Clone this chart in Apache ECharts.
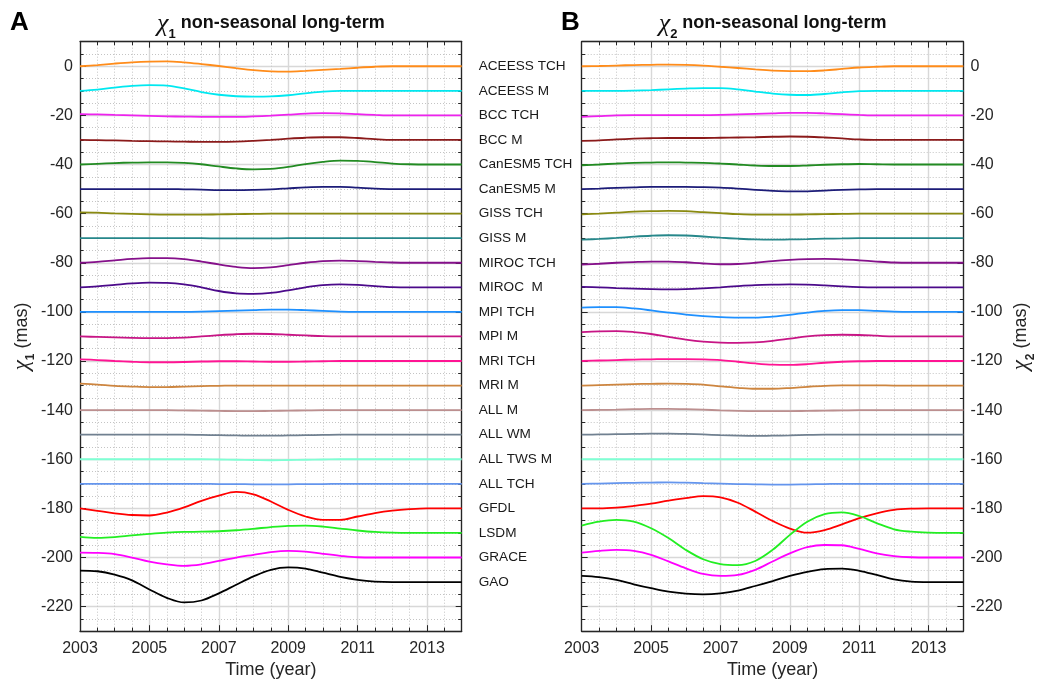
<!DOCTYPE html>
<html>
<head>
<meta charset="utf-8">
<script src="https://cdn.jsdelivr.net/npm/echarts@6/dist/echarts.min.js"></script>
<style>
  html, body { margin: 0; padding: 0; background: #ffffff; }
  #chart { width: 1037px; height: 684px; }
</style>
</head>
<body>
<div id="chart"></div>
<script>
// Sample times (decimal years, half-year steps)
const years = [2003, 2003.5, 2004, 2004.5, 2005, 2005.5, 2006, 2006.5, 2007, 2007.5, 2008, 2008.5,
               2009, 2009.5, 2010, 2010.5, 2011, 2011.5, 2012, 2012.5, 2013, 2013.5, 2014];

// Row names, listed top to bottom (each curve is offset by 10 mas)
const seriesNames = ['ACEESS TCH', 'ACEESS M', 'BCC TCH', 'BCC M', 'CanESM5 TCH', 'CanESM5 M',
  'GISS TCH', 'GISS M', 'MIROC TCH', 'MIROC  M', 'MPI TCH', 'MPI M', 'MRI TCH', 'MRI M',
  'ALL M', 'ALL WM', 'ALL TWS M', 'ALL TCH', 'GFDL', 'LSDM', 'GRACE', 'GAO'];

const seriesColors = ['#ff8c1a', '#00e8f0', '#ee22ee', '#8b1a1a', '#228b22', '#1c1c78',
  '#8a8a10', '#26878a', '#85108a', '#4b0a8a', '#1e90ff', '#c71585', '#ff1493', '#cd853f',
  '#bc8f8f', '#708090', '#7fffd4', '#6495ed', '#ff0000', '#22ee22', '#ff00ff', '#000000'];

// Axis tick labels
const xTickYears = [2003, 2005, 2007, 2009, 2011, 2013];
const yTickValues = [0, -20, -40, -60, -80, -100, -120, -140, -160, -180, -200, -220];

// ---- chi1 non-seasonal long-term (mas, offset per row) ----
const chi1AceessTch = [0, 0.5, 1.1, 1.6, 1.9, 2.0, 1.6, 0.9, 0.1, -0.8, -1.6, -2.1, -2.2, -1.9, -1.5, -1.1, -0.6, -0.2, 0, 0, 0, 0, 0];
const chi1AceessM   = [-10, -9.5, -8.7, -8.0, -7.7, -7.9, -9.0, -10.5, -11.6, -12.2, -12.4, -12.3, -11.8, -11.0, -10.3, -10.0, -10, -10, -10, -10, -10, -10, -10];
const chi1BccTch    = [-19.5, -19.6, -19.8, -20.0, -20.2, -20.4, -20.5, -20.6, -20.6, -20.6, -20.4, -20.1, -19.7, -19.3, -19.1, -19.2, -19.5, -19.8, -20, -20, -20, -20, -20];
const chi1BccM      = [-30, -30.1, -30.2, -30.4, -30.5, -30.6, -30.7, -30.8, -30.8, -30.7, -30.4, -30.0, -29.5, -29.1, -28.9, -28.9, -29.2, -29.7, -30, -30, -30, -30, -30];
const chi1CanTch    = [-40, -39.7, -39.4, -39.2, -39.1, -39.1, -39.3, -39.9, -40.8, -41.6, -42.0, -41.8, -41.0, -39.8, -38.9, -38.4, -38.5, -39.0, -39.6, -39.9, -40, -40, -40];
const chi1CanM      = [-50, -50, -50, -50, -50, -50, -50.1, -50.2, -50.4, -50.4, -50.3, -50.1, -49.7, -49.3, -49.1, -49.1, -49.4, -49.8, -50, -50, -50, -50, -50];
const chi1GissTch   = [-59.5, -59.6, -59.9, -60.1, -60.3, -60.4, -60.4, -60.4, -60.3, -60.2, -60.1, -60, -60, -60, -60, -60, -60, -60, -60, -60, -60, -60, -60];
const chi1GissM     = [-70, -70, -70, -70, -70, -70, -70, -70, -70.1, -70.1, -70.1, -70.1, -70, -70, -70, -70, -70, -70, -70, -70, -70, -70, -70];
const chi1MirocTch  = [-80, -79.6, -79.0, -78.4, -78.1, -78.1, -78.5, -79.5, -80.7, -81.7, -82.2, -81.9, -81.0, -80.0, -79.3, -79.1, -79.3, -79.6, -79.9, -80, -80, -80, -80];
const chi1MirocM    = [-90, -89.6, -89.0, -88.4, -88.1, -88.2, -88.8, -90.0, -91.5, -92.5, -92.7, -92.3, -91.2, -90.0, -89.1, -88.8, -89.0, -89.5, -89.9, -90, -90, -90, -90];
const chi1MpiTch    = [-100, -100, -100, -100, -100, -100, -100, -99.9, -99.7, -99.5, -99.3, -99.1, -99.1, -99.3, -99.6, -99.9, -100, -100, -100, -100, -100, -100, -100];
const chi1MpiM      = [-110, -110.2, -110.4, -110.6, -110.7, -110.7, -110.5, -110.0, -109.5, -109.1, -108.9, -109.0, -109.3, -109.6, -109.9, -110, -110, -110, -110, -110, -110, -110, -110];
const chi1MriTch    = [-119.3, -119.6, -120.0, -120.3, -120.5, -120.5, -120.4, -120.2, -120.1, -120.1, -120.2, -120.3, -120.3, -120.2, -120.1, -120, -120, -120, -120, -120, -120, -120, -120];
const chi1MriM      = [-129.2, -129.6, -130.1, -130.4, -130.6, -130.6, -130.4, -130.2, -130.1, -130, -130, -130, -130, -130, -130, -130, -130, -130, -130, -130, -130, -130, -130];
const chi1AllM      = [-140, -140, -140, -140, -140, -140, -140.1, -140.2, -140.3, -140.4, -140.4, -140.3, -140.2, -140.1, -140, -140, -140, -140, -140, -140, -140, -140, -140];
const chi1AllWM     = [-150, -150, -150, -150, -150, -150, -150, -150.1, -150.2, -150.3, -150.4, -150.4, -150.3, -150.2, -150.1, -150, -150, -150, -150, -150, -150, -150, -150];
const chi1AllTwsM   = [-160, -160, -160, -160, -160, -160, -160, -160, -160.1, -160.2, -160.3, -160.4, -160.3, -160.2, -160.1, -160, -160, -160, -160, -160, -160, -160, -160];
const chi1AllTch    = [-170, -170, -170, -170, -170, -170, -170, -170, -170.1, -170.1, -170.2, -170.2, -170.2, -170.1, -170.1, -170, -170, -170, -170, -170, -170, -170, -170];
const chi1Gfdl      = [-180.0, -181.0, -182.0, -182.7, -182.9, -181.7, -179.6, -176.9, -174.8, -173.3, -174.3, -177.2, -180.6, -183.3, -184.7, -184.7, -183.3, -181.9, -180.9, -180.3, -180.0, -180, -180];
const chi1Lsdm      = [-191.6, -192.0, -191.7, -191.0, -190.4, -189.9, -189.6, -189.5, -189.3, -188.9, -188.3, -187.6, -187.1, -187.0, -187.4, -188.2, -189.0, -189.6, -189.9, -190, -190, -190, -190];
const chi1Grace     = [-198.0, -198.1, -198.6, -200.0, -201.7, -202.8, -203.4, -202.8, -201.4, -200.0, -198.9, -197.8, -197.3, -197.6, -198.5, -199.3, -199.9, -200.0, -200, -200, -200, -200, -200];
const chi1Gao       = [-205.3, -205.6, -207.0, -209.3, -213.0, -216.4, -218.3, -217.5, -214.6, -211.1, -207.7, -205.0, -204.0, -204.5, -206.2, -207.9, -209.1, -209.8, -210, -210, -210, -210, -210];

// ---- chi2 non-seasonal long-term (mas, offset per row) ----
const chi2AceessTch = [0, 0.1, 0.3, 0.5, 0.6, 0.7, 0.6, 0.3, -0.2, -0.7, -1.3, -1.8, -2.0, -2.0, -1.7, -1.1, -0.5, -0.2, 0, 0, 0, 0, 0];
const chi2AceessM   = [-10, -10, -10, -9.9, -9.7, -9.4, -9.1, -8.9, -8.9, -9.4, -10.3, -11.1, -11.6, -11.7, -11.3, -10.6, -10.1, -10, -10, -10, -10, -10, -10];
const chi2BccTch    = [-20.6, -20.3, -20.0, -19.9, -19.9, -19.9, -19.9, -19.9, -19.8, -19.6, -19.4, -19.2, -19.0, -19.0, -19.2, -19.5, -19.8, -20, -20, -20, -20, -20, -20];
const chi2BccM      = [-30.4, -30.2, -29.8, -29.5, -29.3, -29.2, -29.2, -29.2, -29.1, -29.0, -28.9, -28.7, -28.6, -28.7, -29.0, -29.4, -29.8, -30, -30, -30, -30, -30, -30];
const chi2CanTch    = [-40.3, -40.0, -39.6, -39.3, -39.2, -39.1, -39.2, -39.3, -39.6, -40.0, -40.4, -40.6, -40.6, -40.4, -40.1, -39.9, -39.8, -39.9, -40, -40, -40, -40, -40];
const chi2CanM      = [-50, -49.8, -49.5, -49.3, -49.1, -49.1, -49.1, -49.2, -49.4, -49.8, -50.3, -50.7, -50.9, -50.9, -50.6, -50.3, -50.1, -50, -50, -50, -50, -50, -50];
const chi2GissTch   = [-60.3, -60.0, -59.6, -59.2, -59.0, -58.9, -59.0, -59.4, -59.8, -60.2, -60.4, -60.4, -60.4, -60.3, -60.2, -60.1, -60, -60, -60, -60, -60, -60, -60];
const chi2GissM     = [-70.6, -70.3, -69.9, -69.4, -69.0, -68.8, -68.9, -69.3, -69.8, -70.2, -70.5, -70.6, -70.5, -70.4, -70.2, -70.1, -70, -70, -70, -70, -70, -70, -70];
const chi2MirocTch  = [-80.7, -80.4, -80.0, -79.7, -79.5, -79.5, -79.8, -80.3, -80.6, -80.5, -80.0, -79.3, -78.8, -78.5, -78.4, -78.6, -79.0, -79.5, -79.9, -80, -80, -80, -80];
const chi2MirocM    = [-89.8, -90.0, -90.3, -90.5, -90.7, -90.8, -90.7, -90.4, -90.0, -89.5, -89.1, -88.9, -88.8, -88.9, -89.2, -89.6, -89.9, -90, -90, -90, -90, -90, -90];
const chi2MpiTch    = [-98.3, -98.1, -98.1, -98.6, -99.4, -100.3, -101.1, -101.7, -102.1, -102.3, -102.3, -101.9, -101.2, -100.3, -99.6, -99.3, -99.3, -99.6, -99.9, -100, -100, -100, -100];
const chi2MpiM      = [-108.2, -107.9, -107.8, -108.2, -109.0, -110.2, -111.3, -112.1, -112.5, -112.6, -112.4, -111.8, -110.9, -110.0, -109.5, -109.3, -109.4, -109.7, -110, -110, -110, -110, -110];
const chi2MriTch    = [-120.0, -119.8, -119.6, -119.4, -119.3, -119.2, -119.2, -119.3, -119.6, -120.3, -121.0, -121.5, -121.6, -121.3, -120.7, -120.3, -120.1, -120, -120, -120, -120, -120, -120];
const chi2MriM      = [-130, -129.8, -129.6, -129.4, -129.3, -129.2, -129.3, -129.6, -130.3, -130.9, -131.3, -131.3, -131.0, -130.5, -130.1, -129.9, -129.9, -129.9, -130, -130, -130, -130, -130];
const chi2AllM      = [-140, -139.9, -139.8, -139.6, -139.5, -139.5, -139.6, -139.8, -140.1, -140.3, -140.4, -140.4, -140.4, -140.3, -140.2, -140.1, -140, -140, -140, -140, -140, -140, -140];
const chi2AllWM     = [-150, -149.9, -149.8, -149.7, -149.6, -149.6, -149.7, -149.9, -150.2, -150.4, -150.5, -150.4, -150.3, -150.1, -150, -150, -150, -150, -150, -150, -150, -150, -150];
const chi2AllTwsM   = [-160, -160, -160, -160, -160, -160, -160, -160, -160, -160, -160, -160, -160, -160, -160, -160, -160, -160, -160, -160, -160, -160, -160];
const chi2AllTch    = [-170, -169.9, -169.7, -169.6, -169.5, -169.4, -169.5, -169.7, -169.9, -170.1, -170.2, -170.3, -170.3, -170.2, -170.1, -170, -170, -170, -170, -170, -170, -170, -170];
const chi2Gfdl      = [-180.0, -180.0, -179.7, -179.0, -178.1, -176.8, -175.8, -175.0, -175.5, -177.7, -181.3, -185.1, -188.2, -189.9, -188.8, -186.5, -184.0, -182.0, -180.6, -180.1, -180, -180, -180];
const chi2Lsdm      = [-187.0, -185.4, -184.7, -185.4, -188.1, -192.1, -196.9, -200.7, -202.7, -203.1, -201.4, -196.9, -190.8, -185.4, -182.3, -181.6, -183.1, -186.0, -188.5, -189.5, -189.9, -190, -190];
const chi2Grace     = [-198.0, -197.3, -196.9, -197.3, -198.9, -201.6, -204.4, -206.7, -207.5, -207.1, -205.0, -201.6, -198.3, -195.8, -194.9, -195.0, -196.5, -198.3, -199.4, -199.9, -200, -200, -200];
const chi2Gao       = [-207.5, -208.0, -209.1, -210.9, -212.5, -213.9, -214.7, -215.0, -214.6, -213.5, -211.6, -209.6, -207.5, -205.8, -204.7, -204.5, -205.4, -207.1, -208.9, -209.8, -210, -210, -210];

const chi1Rows = [chi1AceessTch, chi1AceessM, chi1BccTch, chi1BccM, chi1CanTch, chi1CanM, chi1GissTch, chi1GissM,
  chi1MirocTch, chi1MirocM, chi1MpiTch, chi1MpiM, chi1MriTch, chi1MriM, chi1AllM, chi1AllWM, chi1AllTwsM, chi1AllTch,
  chi1Gfdl, chi1Lsdm, chi1Grace, chi1Gao];
const chi2Rows = [chi2AceessTch, chi2AceessM, chi2BccTch, chi2BccM, chi2CanTch, chi2CanM, chi2GissTch, chi2GissM,
  chi2MirocTch, chi2MirocM, chi2MpiTch, chi2MpiM, chi2MriTch, chi2MriM, chi2AllM, chi2AllWM, chi2AllTwsM, chi2AllTch,
  chi2Gfdl, chi2Lsdm, chi2Grace, chi2Gao];

// ---- styling ----
const FONT = 'Arial, "Liberation Sans", Helvetica, sans-serif';
const SERIF = '"Liberation Serif", "DejaVu Serif", "Times New Roman", serif';
const INK = '#262626';
const X_MIN = 2003, X_MAX = 2014;
const Y_MIN = -230, Y_MAX = 10;
const MINOR_GRID = { color: '#c4c4c4', width: 1, type: [1, 2] };
const MAJOR_GRID = { color: '#d8d8d8', width: 1.4 };
const BORDER = { color: INK, width: 1.3 };
const PLOT_TOP = 41.7, PLOT_H = 589.5, PLOT_W = 381.7;
const panelLeft = [80, 581.7];

function chiRich(main, sub) {
  return {
    chi: { fontFamily: SERIF, fontStyle: 'italic', fontSize: main + 5, color: INK, lineHeight: 30, verticalAlign: 'middle' },
    sub: { fontFamily: FONT, fontSize: sub, fontWeight: 'bold', color: INK, lineHeight: sub + 1, verticalAlign: 'bottom' },
    txt: { fontFamily: FONT, fontSize: main, color: INK, lineHeight: 30, verticalAlign: 'middle' }
  };
}

function xAxesFor(gi) {
  const base = {
    type: 'value', gridIndex: gi, min: X_MIN, max: X_MAX,
    axisLine: { show: false, onZero: false }, axisLabel: { show: false }, splitLine: { show: false }
  };
  return [
    Object.assign({}, base, {
      position: 'bottom', interval: 0.5,
      axisLine: { show: true, onZero: false, lineStyle: BORDER },
      axisTick: { show: true, inside: true, length: 3.5, lineStyle: { color: INK, width: 1 } },
      splitLine: { show: true, lineStyle: MINOR_GRID }
    }),
    Object.assign({}, base, {
      position: 'bottom', interval: 2,
      axisTick: { show: true, inside: true, length: 6, lineStyle: { color: INK, width: 1 } },
      axisLabel: {
        show: true, showMinLabel: true, showMaxLabel: false, margin: 9,
        color: INK, fontFamily: FONT, fontSize: 16,
        formatter: v => (xTickYears.indexOf(v) >= 0 ? String(v) : '')
      },
      splitLine: { show: true, lineStyle: MAJOR_GRID },
      name: 'Time (year)', nameLocation: 'middle', nameGap: 29,
      nameTextStyle: { fontFamily: FONT, fontSize: 18, color: INK }
    }),
    Object.assign({}, base, {
      position: 'top', interval: 0.5,
      axisLine: { show: true, onZero: false, lineStyle: BORDER },
      axisTick: { show: true, inside: true, length: 3.5, lineStyle: { color: INK, width: 1 } }
    }),
    Object.assign({}, base, {
      position: 'top', interval: 2,
      axisTick: { show: true, inside: true, length: 6, lineStyle: { color: INK, width: 1 } }
    })
  ];
}

function yAxesFor(gi, labelSide, nameSub) {
  const base = {
    type: 'value', gridIndex: gi, min: Y_MIN, max: Y_MAX,
    axisLine: { show: false, onZero: false }, axisLabel: { show: false }, splitLine: { show: false }
  };
  const tickLabel = {
    show: true, showMinLabel: false, showMaxLabel: false, margin: 7,
    color: INK, fontFamily: FONT, fontSize: 16,
    formatter: v => (yTickValues.indexOf(v) >= 0 ? String(v) : '')
  };
  const axisName = {
    name: '{chi|χ}{sub|' + nameSub + '}{txt| (mas)}', nameLocation: 'middle', nameRotate: 90, nameGap: 43,
    nameTextStyle: { fontFamily: FONT, fontSize: 18, color: INK, rich: chiRich(18, 12) }
  };
  return [
    Object.assign({}, base, {
      position: 'left', interval: 5,
      axisLine: { show: true, onZero: false, lineStyle: BORDER },
      axisTick: { show: true, inside: true, length: 3.5, lineStyle: { color: INK, width: 1 } },
      splitLine: { show: true, lineStyle: MINOR_GRID }
    }),
    Object.assign({}, base, {
      position: 'left', minInterval: 20, maxInterval: 20,
      axisTick: { show: true, inside: true, length: 6, lineStyle: { color: INK, width: 1 } },
      splitLine: { show: true, lineStyle: MAJOR_GRID }
    }, labelSide === 'left' ? Object.assign({ axisLabel: tickLabel }, axisName) : {}),
    Object.assign({}, base, {
      position: 'right', interval: 5,
      axisLine: { show: true, onZero: false, lineStyle: BORDER },
      axisTick: { show: true, inside: true, length: 3.5, lineStyle: { color: INK, width: 1 } }
    }),
    Object.assign({}, base, {
      position: 'right', minInterval: 20, maxInterval: 20,
      axisTick: { show: true, inside: true, length: 6, lineStyle: { color: INK, width: 1 } }
    }, labelSide === 'right' ? Object.assign({ axisLabel: tickLabel }, axisName) : {})
  ];
}

// Row-name axis placed between the two panels
const rowNameAxis = {
  type: 'value', gridIndex: 0, position: 'right', min: Y_MIN, max: Y_MAX, interval: 10,
  axisLine: { show: false, onZero: false }, axisTick: { show: false }, splitLine: { show: false },
  axisLabel: {
    show: true, margin: 17, color: '#1a1a1a', fontFamily: FONT, fontSize: 13.6,
    formatter: v => {
      const idx = Math.round(-v / 10);
      return (v <= 0 && idx < seriesNames.length) ? seriesNames[idx] : '';
    }
  }
};

const xAxis = xAxesFor(0).concat(xAxesFor(1));
const yAxisA = yAxesFor(0, 'left', '1');
const yAxisB = yAxesFor(1, 'right', '2');
const yAxis = yAxisA.concat([rowNameAxis]).concat(yAxisB);
const DATA_X = [0, 4];
const DATA_Y = [0, yAxisA.length + 1];

function buildSeries(rows, panel) {
  return rows.map((vals, i) => ({
    type: 'line', name: seriesNames[i],
    xAxisIndex: DATA_X[panel], yAxisIndex: DATA_Y[panel],
    data: years.map((t, k) => [t, vals[k]]),
    smooth: 0.35, showSymbol: false, symbol: 'none', silent: true,
    lineStyle: { color: seriesColors[i], width: 1.8 }, z: 3
  }));
}

const titleStyle = {
  fontFamily: FONT, fontSize: 18, fontWeight: 'bold', color: '#111',
  rich: {
    chi: { fontFamily: SERIF, fontStyle: 'italic', fontWeight: 'normal', fontSize: 26, color: '#111', lineHeight: 36, verticalAlign: 'middle', padding: [3, 0, 0, 0] },
    sub: { fontFamily: FONT, fontSize: 13, fontWeight: 'bold', color: '#111', lineHeight: 14, verticalAlign: 'bottom' },
    txt: { fontFamily: FONT, fontSize: 18, fontWeight: 'bold', color: '#111', lineHeight: 36, verticalAlign: 'middle' }
  }
};

const option = {
  backgroundColor: '#ffffff',
  animation: false,
  title: [
    { text: '{chi|χ}{sub|1}{txt| non-seasonal long-term}', left: panelLeft[0] + PLOT_W / 2, top: 5, textAlign: 'center', padding: 0, textStyle: titleStyle },
    { text: '{chi|χ}{sub|2}{txt| non-seasonal long-term}', left: panelLeft[1] + PLOT_W / 2, top: 5, textAlign: 'center', padding: 0, textStyle: titleStyle },
    { text: 'A', left: 10, top: 10, padding: 0, textStyle: { fontFamily: FONT, fontSize: 26, fontWeight: 'bold', color: '#000' } },
    { text: 'B', left: 561, top: 10, padding: 0, textStyle: { fontFamily: FONT, fontSize: 26, fontWeight: 'bold', color: '#000' } }
  ],
  grid: [
    { left: panelLeft[0], top: PLOT_TOP, width: PLOT_W, height: PLOT_H, containLabel: false, outerBoundsMode: 'none' },
    { left: panelLeft[1], top: PLOT_TOP, width: PLOT_W, height: PLOT_H, containLabel: false, outerBoundsMode: 'none' }
  ],
  xAxis: xAxis,
  yAxis: yAxis,
  series: buildSeries(chi1Rows, 0).concat(buildSeries(chi2Rows, 1))
};

const chart = echarts.init(document.getElementById('chart'), null, { renderer: 'canvas' });
chart.setOption(option);
</script>
</body>
</html>
